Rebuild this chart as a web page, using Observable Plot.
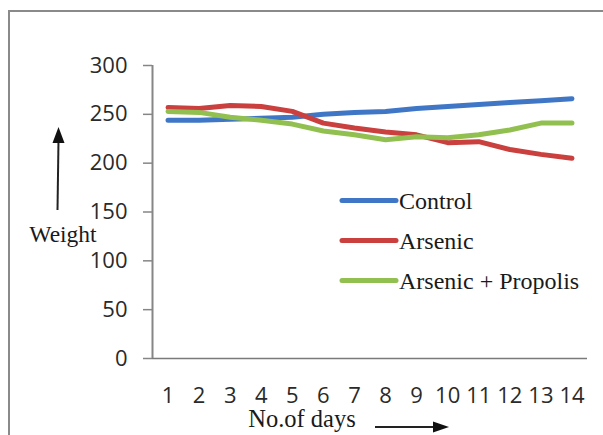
<!DOCTYPE html>
<html>
<head>
<meta charset="utf-8">
<script src="https://cdn.jsdelivr.net/npm/d3@7"></script>
<script src="https://cdn.jsdelivr.net/npm/@observablehq/plot@0.6"></script>
<style>
  html, body { margin: 0; padding: 0; background: #fff; }
  #wrap { position: relative; width: 603px; height: 435px; overflow: hidden; background: #fff; }
  #border { position: absolute; left: 8px; top: 10px; width: 800px; height: 800px;
            border-left: 2px solid #8a8a8a; border-top: 2px solid #8a8a8a; }
  #chart { position: absolute; left: 0; top: 0; }
</style>
</head>
<body>
<div id="wrap">
  <div id="border"></div>
  <div id="chart"></div>
</div>
<script>
const days = [1, 2, 3, 4, 5, 6, 7, 8, 9, 10, 11, 12, 13, 14];
const seriesNames = ["Control", "Arsenic", "Arsenic + Propolis"];
const seriesColors = ["#3f77c6", "#c9403e", "#92c050"];
const control  = [244, 244, 245, 246, 247, 250, 252, 253, 256, 258, 260, 262, 264, 266];
const arsenic  = [257, 256, 259, 258, 253, 241, 236, 232, 229, 221, 222, 214, 209, 205];
const propolis = [253, 252, 247, 244, 240, 233, 229, 224, 227, 226, 229, 234, 241, 241];
const yTicks = [0, 50, 100, 150, 200, 250, 300];
const yLabel = "Weight";
const xLabel = "No.of days";

const seriesValues = [control, arsenic, propolis];
const data = seriesNames.flatMap((name, i) =>
  days.map((d, j) => ({ series: name, day: d, value: seriesValues[i][j] })));

const svg = Plot.plot({
  width: 603,
  height: 435,
  marginLeft: 152,
  marginRight: 16,
  marginTop: 65,
  marginBottom: 77,
  style: { fontFamily: "'Open Sans', sans-serif", fontSize: "22px", color: "#2a2a2a", background: "transparent", overflow: "visible" },
  x: { domain: [0.5, 14.5] },
  y: { domain: [0, 300] },
  color: { domain: seriesNames, range: seriesColors },
  marks: [
    Plot.axisY({ ticks: yTicks, tickSize: 9, tickPadding: 16, stroke: "#868686", strokeWidth: 1.5, label: null, tickFormat: d => String(d) }),
    Plot.axisX({ ticks: days, tickSize: 0, tickPadding: 29, label: null, tickFormat: d => String(d) }),
    Plot.ruleY([0], { x1: 0.5, x2: 14.5, stroke: "#7a7a7a", strokeWidth: 1.5 }),
    Plot.ruleX([0.5], { y1: 0, y2: 300, stroke: "#868686", strokeWidth: 2 }),
    Plot.line(data, { x: "day", y: "value", z: "series", stroke: "series", strokeWidth: 5, strokeLinecap: "round", strokeLinejoin: "round" })
  ]
});
document.getElementById("chart").appendChild(svg);

// Annotations: legend, axis titles and arrows
const s = d3.select(svg);
const serif = "'Liberation Serif', 'Times New Roman', serif";
const leg = s.append("g").attr("text-anchor", "start");
seriesNames.forEach((name, i) => {
  const y = 200.5 + i * 40;
  leg.append("line").attr("x1", 342).attr("x2", 396).attr("y1", y).attr("y2", y)
    .attr("stroke", seriesColors[i]).attr("stroke-width", 5).attr("stroke-linecap", "round");
  leg.append("text").attr("x", 399).attr("y", y + 8.5).attr("text-anchor", "start").attr("font-family", serif)
    .attr("font-size", 24).attr("fill", "#1a1a1a").text(name);
});
s.append("text").attr("x", 63).attr("y", 242).attr("text-anchor", "middle")
  .attr("font-family", serif).attr("font-size", 23.5).attr("fill", "#1a1a1a").text(yLabel);
s.append("text").attr("x", 302).attr("y", 427).attr("text-anchor", "middle")
  .attr("font-family", serif).attr("font-size", 24.5).attr("fill", "#1a1a1a").text(xLabel);
// up arrow
s.append("line").attr("x1", 57.5).attr("y1", 210).attr("x2", 58.5).attr("y2", 140)
  .attr("stroke", "#222").attr("stroke-width", 2);
s.append("polygon").attr("points", "52.5,143 64.5,143 58.5,127").attr("fill", "#111");
// right arrow
s.append("line").attr("x1", 375).attr("y1", 427).attr("x2", 436).attr("y2", 427)
  .attr("stroke", "#222").attr("stroke-width", 2);
s.append("polygon").attr("points", "433,421.5 433,432.5 449,427").attr("fill", "#111");
</script>
</body>
</html>
